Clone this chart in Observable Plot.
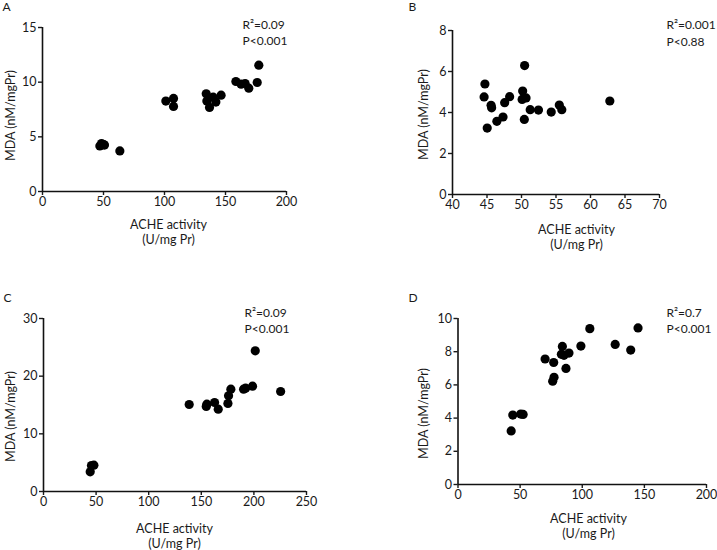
<!DOCTYPE html>
<html>
<head>
<meta charset="utf-8">
<script src="https://cdn.jsdelivr.net/npm/d3@7"></script>
<script src="https://cdn.jsdelivr.net/npm/@observablehq/plot@0.6"></script>
<style>
  html, body { margin: 0; padding: 0; background: #fff; }
  #chart { position: relative; width: 717px; height: 550px; overflow: hidden; }
  #chart > svg { position: absolute; }
</style>
</head>
<body>
<div id="chart"></div>
<script>
// ---- Data ----
const panelLetters = ["A", "B", "C", "D"];
const r2Labels = ["R²=0.09", "R²=0.001", "R²=0.09", "R²=0.7"];
const pLabels = ["P<0.001", "P<0.88", "P<0.001", "P<0.001"];
const xTitle = "ACHE activity\n(U/mg Pr)";
const yTitle = "MDA (nM/mgPr)";

const achA = [47.0, 48.4, 50.0, 50.8, 63.4, 101.1, 107.4, 107.4, 134.2, 134.7, 136.9, 139.9, 142.1, 146.4, 158.5, 162.8, 166.1, 169.1, 176.0, 177.3];
const mdaA = [4.16, 4.38, 4.29, 4.25, 3.71, 8.27, 8.51, 7.78, 8.94, 8.27, 7.69, 8.63, 8.18, 8.81, 10.06, 9.82, 9.88, 9.45, 9.97, 11.55];

const achB = [44.70, 44.58, 45.59, 45.67, 45.03, 46.43, 47.32, 47.56, 48.28, 50.17, 50.09, 50.66, 50.45, 50.41, 51.26, 52.46, 54.31, 55.48, 55.84, 62.80];
const mdaB = [5.39, 4.76, 4.35, 4.23, 3.24, 3.57, 3.78, 4.48, 4.77, 5.05, 4.64, 4.71, 6.29, 3.66, 4.14, 4.12, 4.02, 4.36, 4.14, 4.56];

const achC = [44.4, 45.6, 47.9, 138.5, 154.7, 155.3, 162.6, 166.1, 175.3, 175.9, 178.1, 190.2, 192.1, 198.7, 201.3, 225.4];
const mdaC = [3.41, 4.51, 4.57, 15.09, 14.74, 15.14, 15.43, 14.28, 15.26, 16.59, 17.75, 17.75, 17.92, 18.27, 24.39, 17.34];

const achD = [42.8, 44.1, 50.5, 52.4, 70.1, 77.0, 77.3, 76.2, 84.0, 83.2, 85.3, 89.3, 86.9, 98.9, 106.1, 126.5, 139.0, 144.9];
const mdaD = [3.23, 4.18, 4.24, 4.22, 7.56, 7.35, 6.46, 6.22, 8.32, 7.84, 7.78, 7.92, 6.99, 8.34, 9.39, 8.44, 8.10, 9.43];

const xDomains = [[0, 200], [40, 70], [0, 250], [0, 200]];
const yDomains = [[0, 15], [0, 8], [0, 30], [0, 10]];
const xTickValues = [[0, 50, 100, 150, 200], [40, 45, 50, 55, 60, 65, 70], [0, 50, 100, 150, 200, 250], [0, 50, 100, 150, 200]];
const yTickValues = [[0, 5, 10, 15], [0, 2, 4, 6, 8], [0, 10, 20, 30], [0, 2, 4, 6, 8, 10]];

// ---- Layout (positions only) ----
const W = 358, H = 275;
const layout = [
  { left: 0,   top: 0,   m: {l: 42, r: 72, t: 27, b: 84},
    letter: [2, 7], r2: [242, 25], p: [242, 41], xt: [168, 231], yt: [10, 115] },
  { left: 358, top: 0,   m: {l: 94, r: 57, t: 30, b: 81},
    letter: [408, 7], r2: [666, 25], p: [666, 42], xt: [576, 236], yt: [423, 114] },
  { left: 0,   top: 275, m: {l: 43, r: 52, t: 43, b: 59},
    letter: [3, 298], r2: [244, 313], p: [244, 329], xt: [174, 535], yt: [10, 416] },
  { left: 358, top: 275, m: {l: 99.5, r: 10, t: 43, b: 66},
    letter: [408, 298], r2: [666, 313], p: [666, 329], xt: [588, 525], yt: [423, 413] }
];

const xs = [achA, achB, achC, achD];
const ys = [mdaA, mdaB, mdaC, mdaD];

const container = document.getElementById("chart");

for (let i = 0; i < 4; i++) {
  const L = layout[i];
  const data = xs[i].map((x, j) => ({ach: x, mda: ys[i][j]}));
  const ax = L.left + L.m.l, ay = L.top + L.m.t; // absolute top-left of frame
  const rel = ([px, py]) => ({dx: px - ax, dy: py - ay});
  const textOpts = (pos, extra) => Object.assign({frameAnchor: "top-left", fill: "#1a1a1a", fontSize: 12}, rel(pos), extra);

  const svg = Plot.plot({
    width: W,
    height: H,
    marginLeft: L.m.l,
    marginRight: L.m.r,
    marginTop: L.m.t,
    marginBottom: L.m.b,
    style: {fontFamily: "Lato, 'Open Sans', sans-serif", fontSize: "12px", color: "#1a1a1a", background: "white", overflow: "visible"},
    x: {domain: xDomains[i], nice: false},
    y: {domain: yDomains[i], nice: false},
    marks: [
      Plot.axisX({ticks: xTickValues[i], tickSize: 4, tickPadding: 2, strokeWidth: 1.4, label: null, fontSize: 12.5}),
      Plot.axisY({ticks: yTickValues[i], tickSize: 4, tickPadding: 2, strokeWidth: 1.4, label: null, fontSize: 12.5}),
      Plot.ruleX([xDomains[i][0]], {stroke: "#111", strokeWidth: 1.6}),
      Plot.ruleY([yDomains[i][0]], {stroke: "#111", strokeWidth: 1.6}),
      Plot.dot(data, {x: "ach", y: "mda", r: 4.6, fill: "black", stroke: "none"}),
      Plot.text([panelLetters[i]], textOpts(L.letter, {text: d => d, textAnchor: "start", lineAnchor: "middle"})),
      Plot.text([r2Labels[i]], textOpts(L.r2, {text: d => d, textAnchor: "start", lineAnchor: "middle"})),
      Plot.text([pLabels[i]], textOpts(L.p, {text: d => d, textAnchor: "start", lineAnchor: "middle"})),
      Plot.text([xTitle], textOpts(L.xt, {text: d => d, textAnchor: "middle", lineAnchor: "middle", lineHeight: 1.2, fontSize: 12.5})),
      Plot.text([yTitle], textOpts(L.yt, {text: d => d, textAnchor: "middle", lineAnchor: "middle", rotate: -90, fontSize: 12.5}))
    ]
  });
  svg.style.left = L.left + "px";
  svg.style.top = L.top + "px";
  container.appendChild(svg);
}
</script>
</body>
</html>
